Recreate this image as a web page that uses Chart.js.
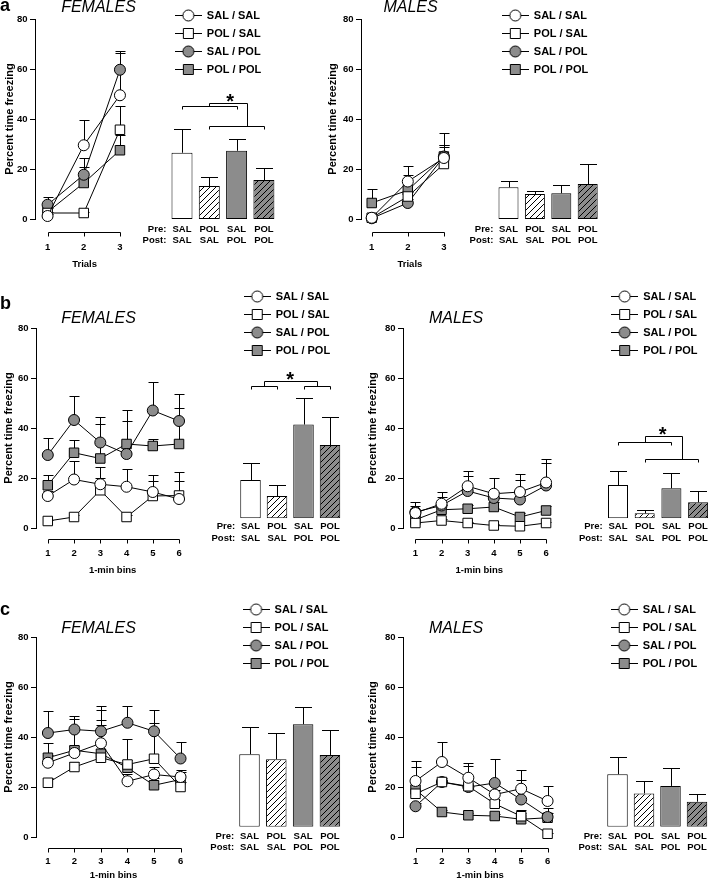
<!DOCTYPE html>
<html lang="en">
<head>
<meta charset="utf-8">
<title>Percent time freezing</title>
<script src="https://cdn.jsdelivr.net/npm/chart.js@4.4.1/dist/chart.umd.min.js"></script>
<style>
html, body { margin:0; padding:0; background:#fff; overflow:hidden; }
#fig { position:relative; width:709px; height:882px; overflow:hidden; background:#fff;
       font-family: Arial, "Liberation Sans", Helvetica, sans-serif; color:#000; }
#fig canvas { position:absolute; }
.txt { position:absolute; line-height:1; white-space:nowrap; }
.panel { font-weight:bold; font-size:18px; }
.sex { font-style:italic; font-size:16px; transform:translate(-50%,-50%); }
</style>
</head>
<body>
<div id="fig">
  <canvas id="aFL"></canvas><canvas id="aFB"></canvas><canvas id="aML"></canvas><canvas id="aMB"></canvas>
  <canvas id="bFL"></canvas><canvas id="bFB"></canvas><canvas id="bML"></canvas><canvas id="bMB"></canvas>
  <canvas id="cFL"></canvas><canvas id="cFB"></canvas><canvas id="cML"></canvas><canvas id="cMB"></canvas>
  <div class="txt panel" style="left:0px;top:-4px">a</div>
  <div class="txt panel" style="left:0px;top:294px">b</div>
  <div class="txt panel" style="left:0px;top:600px">c</div>
  <div class="txt sex" style="left:98.5px;top:6.7px">FEMALES</div>
  <div class="txt sex" style="left:410.5px;top:6.7px">MALES</div>
  <div class="txt sex" style="left:98.5px;top:318.3px">FEMALES</div>
  <div class="txt sex" style="left:456px;top:318.3px">MALES</div>
  <div class="txt sex" style="left:98.5px;top:627.5px">FEMALES</div>
  <div class="txt sex" style="left:456px;top:627.5px">MALES</div>
</div>
<script>
// ---------------- DATA ----------------
const groups = ['SAL / SAL', 'POL / SAL', 'SAL / POL', 'POL / POL'];
const preLabels = ['SAL', 'POL', 'SAL', 'POL'];
const postLabels = ['SAL', 'SAL', 'POL', 'POL'];
const rowTitles = ['Pre:', 'Post:'];
const trials = [1, 2, 3];
const bins = [1, 2, 3, 4, 5, 6];
const yTicksStep = 20;
const yAxisMax = 80;

// a – trials (females)
const aF_ss = [1.2, 29.5, 49.5],  aF_ss_se = [1.0, 10.2, 16.9];
const aF_ps = [2.4, 2.4, 35.7],   aF_ps_se = [0.5, 0.5, 9.6];
const aF_sp = [5.7, 17.7, 59.7],  aF_sp_se = [3.3, 6.7, 7.3];
const aF_pp = [2.8, 14.4, 27.5],  aF_pp_se = [1.5, 6.6, 6.0];
const aF_bar = [26.5, 13.2, 27.3, 15.6], aF_bar_se = [9.4, 3.7, 4.6, 4.9];
// a – trials (males)
const aM_ss = [0.5, 15.0, 24.4],  aM_ss_se = [0.5, 6.3, 10.0];
const aM_ps = [0.5, 9.0, 22.0],   aM_ps_se = [0.3, 2.0, 7.7];
const aM_sp = [0.3, 6.4, 25.0],   aM_sp_se = [0.3, 1.5, 4.0];
const aM_pp = [6.4, 11.5, 25.0],  aM_pp_se = [5.6, 6.2, 4.5];
const aM_bar = [12.7, 10.0, 10.3, 14.0], aM_bar_se = [2.5, 1.3, 3.3, 8.0];

// b – 1-min bins (females)
const bF_ss = [12.8, 19.4, 17.5, 16.5, 14.4, 11.6], bF_ss_se = [2.0, 7.5, 6.9, 7.0, 4.3, 7.4];
const bF_ps = [2.8, 4.4, 15.1, 4.4, 12.8, 13.0],    bF_ps_se = [0.5, 1.0, 5.0, 1.0, 8.4, 9.5];
const bF_sp = [29.2, 43.2, 34.2, 29.6, 47.0, 42.8], bF_sp_se = [6.9, 9.8, 10.3, 13.4, 11.3, 10.8];
const bF_pp = [17.1, 30.1, 27.8, 33.6, 32.8, 33.6], bF_pp_se = [4.1, 5.0, 13.8, 13.6, 3.0, 14.4];
const bF_bar = [15.3, 8.9, 37.5, 29.3], bF_bar_se = [6.9, 4.4, 10.7, 11.2];
// b – 1-min bins (males)
const bM_ss = [6.0, 9.7, 16.7, 13.7, 14.4, 18.2], bM_ss_se = [4.5, 4.7, 6.3, 6.5, 7.1, 9.3];
const bM_ps = [2.0, 3.0, 2.0, 1.0, 0.7, 2.0],     bM_ps_se = [0.5, 0.5, 0.5, 0.5, 0.5, 0.5];
const bM_sp = [6.4, 9.0, 14.8, 12.0, 11.4, 17.0], bM_sp_se = [2.5, 3.4, 6.0, 2.4, 8.0, 8.9];
const bM_pp = [3.3, 7.3, 7.7, 8.4, 4.4, 7.0],     bM_pp_se = [1.5, 2.0, 1.5, 2.0, 1.5, 2.0];
const bM_bar = [13.3, 2.0, 12.0, 6.4], bM_bar_se = [5.6, 1.3, 6.3, 4.5];

// c – 1-min bins (females)
const cF_ss = [29.7, 33.6, 37.5, 22.3, 25.0, 24.0], cF_ss_se = [3.0, 3.0, 13.2, 3.0, 3.0, 3.0];
const cF_ps = [21.7, 28.0, 31.7, 29.0, 31.3, 20.0], cF_ps_se = [2.0, 2.0, 13.3, 10.0, 14.3, 2.0];
const cF_sp = [41.6, 43.0, 42.3, 45.7, 42.3, 31.4], cF_sp_se = [8.7, 5.3, 10.0, 6.6, 8.6, 6.6];
const cF_pp = [31.7, 34.7, 33.3, 27.7, 20.7, 23.0], cF_pp_se = [6.0, 12.6, 13.4, 3.0, 3.0, 3.0];
const cF_bar = [29.0, 27.0, 41.0, 28.7], cF_bar_se = [10.7, 10.3, 7.0, 10.0];
// c – 1-min bins (males)
const cM_ss = [22.4, 30.0, 23.7, 17.0, 19.3, 14.4], cM_ss_se = [8.0, 8.0, 5.9, 2.0, 7.4, 6.0];
const cM_ps = [17.3, 22.0, 20.3, 13.3, 8.3, 1.3],   cM_ps_se = [1.0, 1.0, 8.1, 1.5, 1.5, 0.5];
const cM_sp = [12.3, 22.0, 20.0, 21.6, 15.0, 8.0],  cM_sp_se = [1.5, 1.5, 1.5, 9.7, 8.0, 1.5];
const cM_pp = [19.0, 10.0, 8.7, 8.4, 7.1, 7.7],     cM_pp_se = [9.0, 1.0, 1.0, 1.0, 3.6, 3.8];
const cM_bar = [21.0, 13.3, 16.3, 10.0], cM_bar_se = [7.0, 5.1, 7.0, 3.0];

// ---------------- STYLE / LAYOUT ----------------
const FONT = 'Arial, "Liberation Sans", Helvetica, sans-serif';
Chart.defaults.font.family = FONT;
Chart.defaults.color = '#000';
const GREY = '#8c8c8c';
const STY = [
  {shape: 'circle', fill: '#ffffff', r: 5.5},
  {shape: 'rect',   fill: '#ffffff', r: 6.7},
  {shape: 'circle', fill: GREY,      r: 5.5},
  {shape: 'rect',   fill: GREY,      r: 6.7}
];
const TICK_FONT = {size: 9.5, weight: 'bold'};
const LEG_FONT = 11, LEG_PAD = 7, PX_PER_UNIT = 2.5;

function hatch(bg) {
  const s = 6, c = document.createElement('canvas'); c.width = s; c.height = s;
  const g = c.getContext('2d');
  g.fillStyle = bg; g.fillRect(0, 0, s, s);
  g.strokeStyle = '#000'; g.lineWidth = 1;
  g.beginPath();
  g.moveTo(0, s); g.lineTo(s, 0);
  g.moveTo(-s / 2, s / 2); g.lineTo(s / 2, -s / 2);
  g.moveTo(s / 2, s * 1.5); g.lineTo(s * 1.5, s / 2);
  g.stroke();
  return g.createPattern(c, 'repeat');
}
const BAR_FILLS = ['#ffffff', hatch('#ffffff'), GREY, hatch(GREY)];

function legendImg(k) {
  const c = document.createElement('canvas'); c.width = 27; c.height = 13;
  const g = c.getContext('2d');
  g.strokeStyle = '#000'; g.lineWidth = 1;
  g.beginPath(); g.moveTo(0, 6.5); g.lineTo(27, 6.5); g.stroke();
  g.fillStyle = STY[k].fill; g.beginPath();
  if (STY[k].shape === 'circle') g.arc(13.5, 6.5, 5.5, 0, Math.PI * 2);
  else g.rect(8.5, 1.5, 10, 10);
  g.fill(); g.stroke();
  return c;
}
const LEG_IMGS = [0, 1, 2, 3].map(legendImg);

// ---------------- PLUGINS ----------------
function drawErrors(chart, sets, cap) {
  const ctx = chart.ctx, ys = chart.scales.y;
  ctx.save(); ctx.strokeStyle = '#000'; ctx.lineWidth = 1; ctx.beginPath();
  chart.data.datasets.forEach((ds, di) => {
    const se = sets[di]; if (!se) return;
    chart.getDatasetMeta(di).data.forEach((el, i) => {
      const raw = ds.data[i];
      const v = (raw && typeof raw === 'object') ? raw.y : raw;
      const x = Math.round(el.x) + 0.5;
      const yt = Math.round(ys.getPixelForValue(v + se[i])) + 0.5;
      ctx.moveTo(x, el.y); ctx.lineTo(x, yt);
      ctx.moveTo(x - cap, yt); ctx.lineTo(x + cap, yt);
    });
  });
  ctx.stroke(); ctx.restore();
}
function lineExtras(sems, cap, off, tickVals, tickLen) {
  return {
    id: 'lineExtras',
    beforeDatasetsDraw(chart) { drawErrors(chart, sems, cap); },
    afterDatasetsDraw(chart) {
      const sx = chart.scales.x, ctx = chart.ctx;
      const y = Math.round(chart.chartArea.bottom + off) + 0.5;
      const px = tickVals.map(t => Math.round(sx.getPixelForValue(t)) + 0.5);
      ctx.save(); ctx.strokeStyle = '#000'; ctx.lineWidth = 1; ctx.beginPath();
      ctx.moveTo(px[0], y); ctx.lineTo(px[px.length - 1], y);
      px.forEach(x => { ctx.moveTo(x, y); ctx.lineTo(x, y + tickLen); });
      ctx.stroke(); ctx.restore();
    }
  };
}
function barExtras(sems, cap, pad, s) {
  return {
    id: 'barExtras',
    afterDatasetsDraw(chart) { drawErrors(chart, [sems], cap); },
    afterDraw(chart) {
      const sx = chart.scales.x, sy = chart.scales.y, ctx = chart.ctx, lh = TICK_FONT.size * 1.2;
      ctx.save();
      ctx.font = 'bold ' + TICK_FONT.size + 'px ' + FONT; ctx.fillStyle = '#000';
      ctx.textAlign = 'right'; ctx.textBaseline = 'middle';
      const y0 = sx.top + pad + lh / 2, x0 = chart.chartArea.left - 2;
      rowTitles.forEach((t, i) => ctx.fillText(t, x0, y0 + i * lh));
      if (s) {
        const X = v => Math.round(sx.getPixelForValue(v)) + 0.5;
        const Y = v => Math.round(sy.getPixelForValue(v)) + 0.5;
        const drop = 3;
        ctx.strokeStyle = '#000'; ctx.lineWidth = 1; ctx.beginPath();
        [s.b1, s.b2].forEach(b => {
          const y = Y(b[2]);
          ctx.moveTo(X(b[0]), y + drop); ctx.lineTo(X(b[0]), y); ctx.lineTo(X(b[1]), y); ctx.lineTo(X(b[1]), y + drop);
        });
        const r1 = (s.b1[0] + s.b1[1]) / 2, yj = Y(s.join);
        ctx.moveTo(X(r1), Y(s.b1[2])); ctx.lineTo(X(r1), yj); ctx.lineTo(X(s.r2), yj); ctx.lineTo(X(s.r2), Y(s.b2[2]));
        ctx.stroke();
        const fs = 20;
        ctx.font = 'bold ' + fs + 'px ' + FONT;
        ctx.textAlign = 'center'; ctx.textBaseline = 'alphabetic';
        ctx.fillText('*', sx.getPixelForValue(s.star[0]), sy.getPixelForValue(s.star[1]) + 0.57 * fs);
      }
      ctx.restore();
    }
  };
}

// ---------------- CHART BUILDERS ----------------
function lineChart(id, g, xs, xTitle, means, sems) {
  const cv = document.getElementById(id);
  const cTop = g.top - 12;
  const W = Math.round(g.right + 6 - g.left);
  const H = Math.round(g.titleY + 6 - cTop);
  cv.width = W; cv.height = H; cv.style.left = g.left + 'px'; cv.style.top = cTop + 'px';
  const xmin = xs[0] - (g.x1 - g.axisX) / g.dx;
  const xmax = xmin + (g.right - g.axisX) / g.dx;
  const lh = TICK_FONT.size * 1.2;
  new Chart(cv, {
    type: 'line',
    data: {datasets: means.map((m, k) => ({
      label: groups[k],
      data: xs.map((x, i) => ({x: x, y: m[i]})),
      borderColor: '#000', borderWidth: 1, tension: 0, clip: false,
      pointStyle: STY[k].shape, pointRadius: STY[k].r,
      pointBackgroundColor: STY[k].fill, pointBorderColor: '#000', pointBorderWidth: 1
    }))},
    options: {
      responsive: false, animation: false, events: [],
      layout: {padding: {left: 0, top: g.top - cTop, right: W - (g.right - g.left), bottom: 0}},
      scales: {
        x: {type: 'linear', min: xmin, max: xmax, bounds: 'data',
            grid: {display: false, drawTicks: false}, border: {display: false},
            afterBuildTicks: s => { s.ticks = xs.map(v => ({value: v})); },
            ticks: {autoSkip: false, maxRotation: 0, minRotation: 0,
                    font: TICK_FONT, padding: g.tickY - g.bottom - lh / 2},
            title: {display: true, text: xTitle, font: TICK_FONT,
                    padding: {top: 0, bottom: (cTop + H) - lh / 2 - g.titleY}},
            afterFit: s => { s.height = H - (g.bottom - cTop); }},
        y: {min: 0, max: yAxisMax,
            ticks: {stepSize: yTicksStep, font: TICK_FONT, padding: 2.5},
            grid: {drawOnChartArea: false, drawTicks: true, tickLength: 5, color: '#000', tickColor: '#000'},
            border: {display: true, color: '#000', width: 1},
            title: {display: true, text: 'Percent time freezing', font: {size: 11, weight: 'bold'},
                    padding: {top: g.yTitle - 6.6 - g.left, bottom: 0}},
            afterFit: s => { s.width = g.axisX - g.left; }}
      },
      plugins: {legend: {display: false}, tooltip: {enabled: false}, title: {display: false}}
    },
    plugins: [lineExtras(sems, 5, g.axisOff, xs, 4)]
  });
}

function barChart(id, g, means, sems, sig) {
  const cv = document.getElementById(id);
  const chartLeft = g.c1 - g.dx / 2, chartRight = g.c1 + 3.5 * g.dx;
  const cLeft = Math.round(chartLeft - 38);
  const cTop = Math.round(g.leg - (LEG_PAD + LEG_FONT / 2));
  const W = Math.ceil(chartRight - cLeft + 2), H = Math.round(g.base + 30 - cTop);
  cv.width = W; cv.height = H; cv.style.left = cLeft + 'px'; cv.style.top = cTop + 'px';
  const legendH = 4 * (LEG_FONT + LEG_PAD) + 10;
  const yMax = (g.base - (cTop + legendH)) / PX_PER_UNIT;
  new Chart(cv, {
    type: 'bar',
    data: {
      labels: preLabels.map((p, i) => [p, postLabels[i]]),
      datasets: [{data: means, backgroundColor: BAR_FILLS, borderColor: '#000', borderWidth: 1,
                  borderSkipped: false, barPercentage: g.bw / g.dx, categoryPercentage: 1}]
    },
    options: {
      responsive: false, animation: false, events: [],
      layout: {padding: {left: chartLeft - cLeft, top: 0, right: W - (chartRight - cLeft), bottom: 0}},
      scales: {
        x: {grid: {display: false, drawTicks: false}, border: {display: false},
            ticks: {autoSkip: false, maxRotation: 0, minRotation: 0, font: TICK_FONT, padding: g.tp},
            afterFit: s => { s.height = H - (g.base - cTop); }},
        y: {display: false, min: 0, max: yMax}
      },
      plugins: {
        tooltip: {enabled: false},
        legend: {display: true, position: 'top', align: 'start', fullSize: false,
          labels: {usePointStyle: true, pointStyleWidth: 26, padding: LEG_PAD, color: '#000',
                   font: {size: LEG_FONT, weight: 'bold'},
                   generateLabels: () => groups.map((t, k) => ({
                     text: t, pointStyle: LEG_IMGS[k], fillStyle: STY[k].fill, strokeStyle: '#000',
                     lineWidth: 0, hidden: false, datasetIndex: 0, index: k, fontColor: '#000'}))}}
      }
    },
    plugins: [barExtras(sems, 8.5, g.tp, sig)]
  });
}

// ---------------- PANELS ----------------
const LG = {
  aF: {left: 0,   yTitle: 10,    axisX: 35,  x1: 48.3,  dx: 38.3, right: 140, top: 19,  bottom: 219, axisOff: 13,   tickY: 247,   titleY: 264.5},
  aM: {left: 320, yTitle: 333,   axisX: 361, x1: 372.3, dx: 38.0, right: 464, top: 19,  bottom: 219, axisOff: 13,   tickY: 247,   titleY: 264.5},
  bF: {left: 0,   yTitle: 9.3,   axisX: 36,  x1: 48.3,  dx: 27.4, right: 196, top: 328, bottom: 528, axisOff: 10.5, tickY: 553.5, titleY: 570},
  bM: {left: 360, yTitle: 372.7, axisX: 403, x1: 416,   dx: 27.4, right: 563, top: 328, bottom: 528, axisOff: 10.5, tickY: 553.5, titleY: 570},
  cF: {left: 0,   yTitle: 9.3,   axisX: 36,  x1: 48.3,  dx: 27.4, right: 196, top: 637, bottom: 837, axisOff: 10.5, tickY: 861,   titleY: 875},
  cM: {left: 360, yTitle: 372.7, axisX: 403, x1: 416,   dx: 27.4, right: 563, top: 637, bottom: 837, axisOff: 10.5, tickY: 861,   titleY: 875}
};
const BG = {
  aF: {c1: 182,   dx: 27.3, bw: 21,   base: 219,   leg: 15,    tp: 4.6},
  aM: {c1: 508.5, dx: 26.4, bw: 20,   base: 219,   leg: 15,    tp: 4.6},
  bF: {c1: 250.5, dx: 26.5, bw: 20.5, base: 518.3, leg: 296,   tp: 2.7},
  bM: {c1: 618,   dx: 26.7, bw: 20,   base: 518.3, leg: 296,   tp: 2.7},
  cF: {c1: 249.5, dx: 26.8, bw: 20.5, base: 826.7, leg: 609.3, tp: 3.6},
  cM: {c1: 617.5, dx: 26.5, bw: 20.5, base: 826.7, leg: 609.3, tp: 3.6}
};
const SIG = {
  aF: {b1: [0, 2, 45.2], b2: [1, 3, 37.2], r2: 2.38, join: 46.5, star: [1.76, 48.9]},
  bF: {b1: [0, 1, 53.0], b2: [2, 3, 53.0], r2: 2.5,  join: 54.9, star: [1.5, 57.3]},
  bM: {b1: [0, 2, 30.6], b2: [1, 3, 23.6], r2: 2.39, join: 33.0, star: [1.67, 35.6]}
};

lineChart('aFL', LG.aF, trials, 'Trials', [aF_ss, aF_ps, aF_sp, aF_pp], [aF_ss_se, aF_ps_se, aF_sp_se, aF_pp_se]);
barChart('aFB', BG.aF, aF_bar, aF_bar_se, SIG.aF);
lineChart('aML', LG.aM, trials, 'Trials', [aM_ss, aM_ps, aM_sp, aM_pp], [aM_ss_se, aM_ps_se, aM_sp_se, aM_pp_se]);
barChart('aMB', BG.aM, aM_bar, aM_bar_se, null);

lineChart('bFL', LG.bF, bins, '1-min bins', [bF_ss, bF_ps, bF_sp, bF_pp], [bF_ss_se, bF_ps_se, bF_sp_se, bF_pp_se]);
barChart('bFB', BG.bF, bF_bar, bF_bar_se, SIG.bF);
lineChart('bML', LG.bM, bins, '1-min bins', [bM_ss, bM_ps, bM_sp, bM_pp], [bM_ss_se, bM_ps_se, bM_sp_se, bM_pp_se]);
barChart('bMB', BG.bM, bM_bar, bM_bar_se, SIG.bM);

lineChart('cFL', LG.cF, bins, '1-min bins', [cF_ss, cF_ps, cF_sp, cF_pp], [cF_ss_se, cF_ps_se, cF_sp_se, cF_pp_se]);
barChart('cFB', BG.cF, cF_bar, cF_bar_se, null);
lineChart('cML', LG.cM, bins, '1-min bins', [cM_ss, cM_ps, cM_sp, cM_pp], [cM_ss_se, cM_ps_se, cM_sp_se, cM_pp_se]);
barChart('cMB', BG.cM, cM_bar, cM_bar_se, null);
</script>
</body>
</html>
